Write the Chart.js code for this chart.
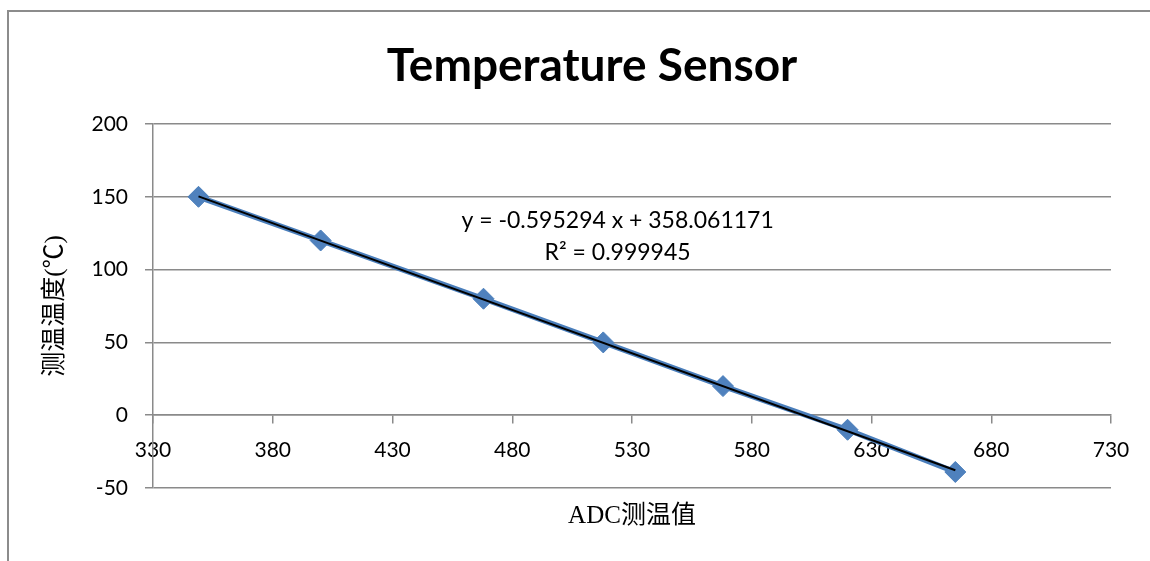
<!DOCTYPE html>
<html><head><meta charset="utf-8">
<script src="https://cdn.jsdelivr.net/npm/chart.js@4/dist/chart.umd.min.js"></script>
<style>
html,body{margin:0;padding:0;background:#fff;overflow:hidden;}
#wrap{position:relative;width:1150px;height:561px;overflow:hidden;}
#frame{position:absolute;left:7px;top:10px;width:1220px;height:620px;border:2px solid #8c8c8c;box-sizing:border-box;}
canvas{position:absolute;left:0;top:0;}
</style></head><body>
<div id="wrap"><div id="frame"></div><canvas id="c" width="1150" height="561"></canvas></div>
<script>
// ---- data ----
const chartTitle = 'Temperature Sensor';
const xAxisTitle = 'ADC测温值';
const yAxisTitle = '测温温度(℃)';
const adcValues = [349, 400, 468, 518, 568, 620, 665];
const temperatures = [150, 120, 80, 50, 20, -10, -39];
const xTickValues = [330, 380, 430, 480, 530, 580, 630, 680, 730];
const yTickValues = [-50, 0, 50, 100, 150, 200];
const trendSlope = -0.595294;
const trendIntercept = 358.061171;
const equationLines = ['y = -0.595294 x + 358.061171', 'R² = 0.999945'];
const equationAnchor = {x: 524, y: 134};

// ---- build ----
const seriesPoints = adcValues.map((x, i) => ({x: x, y: temperatures[i]}));
const xMinData = Math.min(...adcValues), xMaxData = Math.max(...adcValues);
const trendPoints = [xMinData, xMaxData].map(x => ({x: x, y: trendSlope * x + trendIntercept}));

const gridColor = '#8a8a8a';
const tickFont = {family: 'Lato', size: 21};

const textLayer = {
  id: 'textLayer',
  afterDraw(chart) {
    const ctx = chart.ctx, ca = chart.chartArea;
    const xs = chart.scales.x, ys = chart.scales.y;
    ctx.save();
    ctx.fillStyle = '#000';
    // title
    ctx.font = 'bold 46px Lato';
    ctx.textAlign = 'center'; ctx.textBaseline = 'middle';
    ctx.fillText(chartTitle, 592, 66);
    // equation
    ctx.font = '23px Lato';
    const ex = xs.getPixelForValue(equationAnchor.x), ey = ys.getPixelForValue(equationAnchor.y);
    equationLines.forEach((t, i) => ctx.fillText(t, ex, ey + i * 32));
    // x title
    ctx.font = "25px 'Liberation Serif', 'Noto Sans CJK SC'";
    ctx.fillText(xAxisTitle, (ca.left + ca.right) / 2, ca.bottom + 28);
    // y title
    ctx.translate(ca.left - 98, (ca.top + ca.bottom) / 2);
    ctx.rotate(-Math.PI / 2);
    ctx.fillText(yAxisTitle, 0, 0);
    ctx.restore();
  }
};

new Chart(document.getElementById('c'), {
  type: 'scatter',
  data: {
    datasets: [
      {
        label: 'trend', data: trendPoints, showLine: true, order: 0,
        borderColor: '#000', borderWidth: 2, pointRadius: 0, pointHoverRadius: 0
      },
      {
        label: 'data', data: seriesPoints, showLine: true, order: 1,
        borderColor: '#4a7ebb', borderWidth: 5.5,
        pointStyle: 'rectRot', pointRadius: 10.5, pointHoverRadius: 10.5,
        pointBackgroundColor: '#4f81bd', pointBorderColor: '#4a7ebb', pointBorderWidth: 1
      }
    ]
  },
  options: {
    responsive: false, animation: false, devicePixelRatio: 1,
    layout: {padding: {left: 0, right: 39, top: 124, bottom: 73}},
    plugins: {legend: {display: false}, tooltip: {enabled: false}, title: {display: false}},
    scales: {
      x: {
        type: 'linear', position: {y: 0}, min: 330, max: 730,
        afterBuildTicks: s => { s.ticks = xTickValues.map(v => ({value: v})); },
        grid: {drawOnChartArea: false, drawTicks: true, tickLength: 8, color: gridColor, lineWidth: 1.5},
        border: {display: true, color: gridColor, width: 1.5},
        ticks: {font: tickFont, color: '#000', padding: 14, maxRotation: 0, autoSkip: false},
        title: {display: false}
      },
      y: {
        type: 'linear', min: -50, max: 200,
        afterBuildTicks: s => { s.ticks = yTickValues.map(v => ({value: v})); },
        afterFit: s => { s.width = 153; },
        grid: {drawOnChartArea: true, drawTicks: true, tickLength: 8, color: gridColor, lineWidth: 1.5},
        border: {display: true, color: gridColor, width: 1.5},
        ticks: {font: tickFont, color: '#000', padding: 17},
        title: {display: false}
      }
    }
  },
  plugins: [textLayer]
});
</script>
</body></html>
